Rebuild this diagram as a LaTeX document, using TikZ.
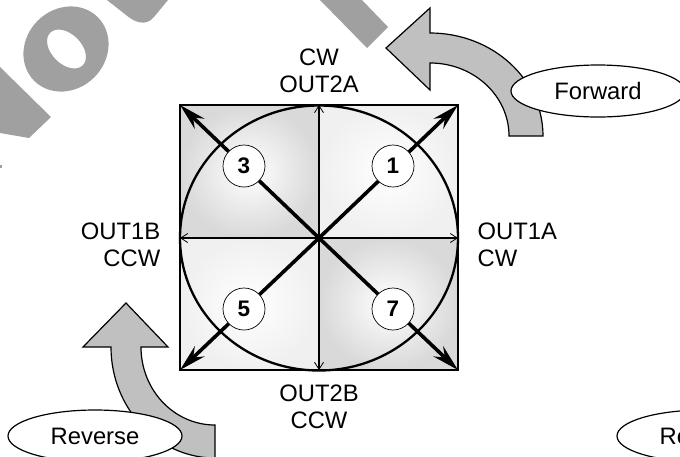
\documentclass[tikz,border=0pt]{standalone}
\usepackage{fontspec}
\setmainfont{Liberation Sans}
\usetikzlibrary{arrows.meta,shapes.geometric}
\definecolor{wmark}{HTML}{A0A0A0}
\definecolor{bentfill}{HTML}{C0C0C0}
\tikzset{
  lbl/.style={inner sep=0pt,font=\fontsize{23.8}{27}\selectfont},
  tag/.style={draw=black,line width=1.2pt,fill=white,ellipse,inner sep=0pt,minimum width=174pt,minimum height=52pt,font=\fontsize{23.8}{26}\selectfont},
  num/.style={draw=black,line width=0.7pt,fill=white,circle,inner sep=0pt,minimum size=42pt,font=\bfseries\fontsize{22.5}{25}\selectfont},
  bent/.style={draw=black,line width=1.2pt,fill=bentfill,line join=miter},
  thinarrow/.style={line width=1.8pt,-{Straight Barb[length=7pt,width=9pt,line width=0.8pt]}},
  heavyarrow/.style={line width=3.6pt,-{Stealth[length=27pt,width=14pt,inset=9pt]}},
  darkq/.style={inner color=white,outer color=black!15},
  lightq/.style={inner color=white,outer color=black!6}
}
\begin{document}
\begin{tikzpicture}[x=1pt,y=-1pt]
\useasboundingbox (0,0) rectangle (680,456);
\clip (0,0) rectangle (680,456);
% background fragments
\fill[wmark] (0,67) -- (51,117) -- (29,138) -- (0,133) -- cycle;
\fill[wmark,even odd rule]
  (97.8,17.2) .. controls (113.4,32.8) and (111.9,59.7) .. (94.3,77.3)
  .. controls (76.7,94.9) and (49.8,96.4) .. (34.2,80.8)
  .. controls (18.6,65.2) and (20.1,38.3) .. (37.7,20.7)
  .. controls (55.3,3.1) and (82.2,1.6) .. (97.8,17.2) -- cycle
  (82.8,65.3) .. controls (88.7,59.4) and (86.1,47.4) .. (77.1,38.4)
  .. controls (68.1,29.4) and (56.1,26.8) .. (50.2,32.7)
  .. controls (44.3,38.6) and (46.9,50.6) .. (55.9,59.6)
  .. controls (64.9,68.6) and (76.9,71.2) .. (82.8,65.3) -- cycle;
\fill[wmark] (107,0) -- (126,15) .. controls (134,22) and (146,27) .. (154,17) -- (168,0) -- cycle;
\fill[wmark] (320,0) -- (362,0) -- (388,27) -- (367,48) -- cycle;
\fill[wmark] (0,165) rectangle (1.5,167.5);
% bent arrows
\draw[bent] (386,48) -- (430,8) -- (430,33) .. controls (492.4,33) and (543,79.1) .. (543,136)
  -- (509,136) .. controls (509,95.7) and (473.6,63) .. (430,63) -- (430,90) -- cycle;
\draw[bent] (126,303) -- (168,347) -- (141,347) .. controls (141,390) and (174,425) .. (215,425)
  -- (215,458) .. controls (157.6,458) and (111,408) .. (111,347) -- (83,347) -- cycle;
% quadrants
\coordinate (c) at (319,238);
\coordinate (tl) at (180,105);
\coordinate (tr) at (458,105);
\coordinate (bl) at (180,370);
\coordinate (br) at (458,370);
\coordinate (t) at (319,105);
\coordinate (b) at (319,370);
\coordinate (l) at (180,238);
\coordinate (r) at (458,238);
\shade[darkq] (tl) rectangle (c);
\shade[lightq] (t) rectangle (r);
\shade[lightq] (l) rectangle (b);
\shade[darkq] (c) rectangle (br);
\draw[line width=1.8pt] (tl) rectangle (br);
\draw[line width=2.3pt] (c) ellipse[x radius=139pt,y radius=132.5pt];
% axes
\draw[thinarrow] (c) -- (t);
\draw[thinarrow] (c) -- (b);
\draw[thinarrow] (c) -- (l);
\draw[thinarrow] (c) -- (r);
\draw[heavyarrow] (c) -- (tl);
\draw[heavyarrow] (c) -- (tr);
\draw[heavyarrow] (c) -- (bl);
\draw[heavyarrow] (c) -- (br);
% numbered circles
\node[num] (n3) at (244,166) {3};
\node[num] (n1) at (393,166) {1};
\node[num] (n5) at (244,309) {5};
\node[num] (n7) at (393,309) {7};
% labels
\node[lbl,align=center] (top) at (319,71) {CW\\OUT2A};
\node[lbl,align=center] (bottom) at (319,407) {OUT2B\\CCW};
\node[lbl,align=right,anchor=east] (left) at (160.5,245) {OUT1B\\CCW};
\node[lbl,align=left,anchor=west] (right) at (477.5,245) {OUT1A\\CW};
% tags
\node[tag] (fwd) at (598,91) {Forward};
\node[tag] (rev) at (95,436) {Reverse};
\node[tag] (rev2) at (704,436) {Reverse};
\end{tikzpicture}
\end{document}
